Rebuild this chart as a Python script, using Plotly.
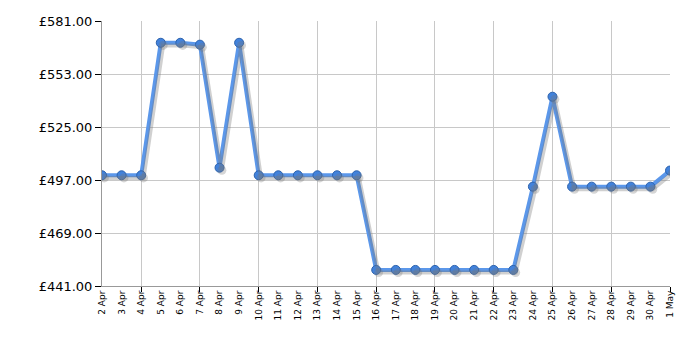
import plotly.graph_objects as go

labels = ["2 Apr", "3 Apr", "4 Apr", "5 Apr", "6 Apr", "7 Apr", "8 Apr", "9 Apr", "10 Apr",
          "11 Apr", "12 Apr", "13 Apr", "14 Apr", "15 Apr", "16 Apr", "17 Apr", "18 Apr",
          "19 Apr", "20 Apr", "21 Apr", "22 Apr", "23 Apr", "24 Apr", "25 Apr", "26 Apr",
          "27 Apr", "28 Apr", "29 Apr", "30 Apr", "1 May"]
prices = [499.5, 499.5, 499.5, 569.5, 569.5, 568.5, 503.5, 569.5, 499.5,
          499.5, 499.5, 499.5, 499.5, 499.5, 449.5, 449.5, 449.5,
          449.5, 449.5, 449.5, 449.5, 449.5, 493.5, 541.0, 493.5,
          493.5, 493.5, 493.5, 493.5, 502.0]
y_ticks = [441, 469, 497, 525, 553, 581]
y_labels = ["\u00a3%.2f" % v for v in y_ticks]

x = list(range(len(labels)))
grid_x = x[2::3]

# shadow offset (in axis units ~ 2px)
sx = 0.12
sy = 1.4

fig = go.Figure()
fig.add_trace(go.Scatter(x=[v + sx for v in x], y=[p - sy for p in prices], mode="lines+markers",
                         line=dict(color="rgba(120,120,120,0.35)", width=4),
                         marker=dict(size=9, color="rgba(120,120,120,0.3)"),
                         xaxis="x2", hoverinfo="skip", showlegend=False))
fig.add_trace(go.Scatter(x=x, y=prices, mode="lines+markers",
                         line=dict(color="#5b97ea", width=4),
                         marker=dict(size=9, color="#4282db", line=dict(color="#2c62ad", width=1)),
                         showlegend=False))

xrange = [0, len(labels) - 1]
fig.update_layout(
    width=700, height=350,
    margin=dict(l=102, r=30, t=21, b=64),
    paper_bgcolor="white", plot_bgcolor="white",
    font=dict(family="DejaVu Sans, Verdana, sans-serif", color="#000"),
    xaxis=dict(range=xrange, tickmode="array", tickvals=x, ticktext=labels,
               tickangle=-90, tickfont=dict(size=9), showgrid=False, ticks="",
               showline=True, linecolor="#999", linewidth=1, zeroline=False,
               fixedrange=True),
    xaxis2=dict(range=xrange, overlaying="x", side="bottom", anchor="y",
                tickmode="array", tickvals=grid_x, showticklabels=False,
                showgrid=True, gridcolor="#c8c8c8", gridwidth=1,
                ticks="outside", ticklen=5, tickcolor="#000", zeroline=False),
    yaxis=dict(range=[441, 581], tickmode="array", tickvals=y_ticks, ticktext=y_labels,
               tickfont=dict(size=13),
               showgrid=True, gridcolor="#c8c8c8", gridwidth=1,
               ticks="outside", ticklen=6, tickcolor="#000",
               showline=True, linecolor="#999", linewidth=1, zeroline=False),
)

fig.write_html("out.html")
